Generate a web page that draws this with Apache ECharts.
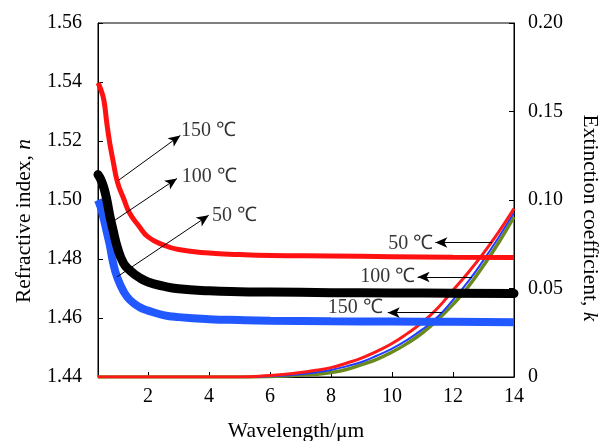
<!DOCTYPE html>
<html>
<head>
<meta charset="utf-8">
<script src="https://cdn.jsdelivr.net/npm/echarts@6/dist/echarts.min.js"></script>
<style>html,body{margin:0;padding:0;background:#fff;}#c{width:613px;height:441px;}</style>
</head>
<body>
<div id="c"></div>
<script>
// ---- data ----
const wavelengthN = [0.36,0.45,0.55,0.65,0.75,0.85,1.0,1.2,1.4,1.7,2.0,2.5,3,4,5,6,8,10,12,14];
const nRed150  = [1.5397,1.5375,1.5340,1.5260,1.5190,1.5135,1.5060,1.5005,1.4955,1.4912,1.4875,1.4848,1.4832,1.4820,1.4815,1.4812,1.4810,1.4808,1.4806,1.4805];
const nBlack100= [1.5086,1.5070,1.5042,1.5000,1.4945,1.4900,1.4838,1.4785,1.4762,1.4738,1.4722,1.4708,1.4699,1.4692,1.4689,1.4688,1.4686,1.4685,1.4684,1.4683];
const nBlue50  = [1.5000,1.4975,1.4935,1.4890,1.4845,1.4790,1.4735,1.4690,1.4662,1.4638,1.4625,1.4610,1.4603,1.4596,1.4593,1.4591,1.4589,1.4588,1.4587,1.4586];

const wavelengthK = [0.36,1,2,3,4,5,6,6.5,7,7.5,8,8.5,9,9.5,10,10.5,11,11.5,12,12.5,13,13.5,14];
const kRed50   = [0,0,0,0,0,0,0.0008,0.0015,0.0025,0.0038,0.0053,0.0078,0.0107,0.0145,0.0189,0.0245,0.0310,0.0390,0.0490,0.0590,0.0700,0.0820,0.0951];
const kBlue100 = [0,0,0,0,0,0,0.0004,0.0008,0.0015,0.0026,0.0040,0.0060,0.0085,0.0120,0.0160,0.0210,0.0270,0.0340,0.0435,0.0540,0.0660,0.0790,0.0929];
const kGreen150= [0,0,0,0,0,0,0.0003,0.0006,0.0011,0.0015,0.0025,0.0042,0.0070,0.0100,0.0141,0.0190,0.0250,0.0325,0.0410,0.0510,0.0630,0.0760,0.0904];

const xTicks = [2,4,6,8,10,12,14];
const leftTicks = [1.44,1.46,1.48,1.50,1.52,1.54,1.56];
const rightTicks = ['0','0.05','0.10','0.15','0.20'];

const labelTexts = ['150 ℃','100 ℃','50 ℃'];
const leftLabelAt  = [[3.08,1.5236],[3.11,1.5078],[4.10,1.4948]];
const leftArrows   = [[[1.036,1.5067],[3.06,1.5219]],[[0.82,1.4925],[2.95,1.5073]],[[0.98,1.4739],[3.99,1.4948]]];
const rightLabelText = ['50 ℃','100 ℃','150 ℃'];
const rightLabelAt = [[11.35,1.4852],[10.76,1.4741],[9.70,1.4635]];
const rightArrows  = [[[13.28,1.4856],[11.42,1.4856]],[[12.62,1.4739],[10.84,1.4739]],[[11.64,1.4618],[9.86,1.4618]]];

// ---- chart ----
const FONT = 'Liberation Serif';
const zip = (xs, ys) => xs.map((x, i) => [x, ys[i]]);
const chart = echarts.init(document.getElementById('c'));
const txt = {color:'#000', fontFamily: FONT, fontSize: 20};
const nameTxt = {color:'#000', fontFamily: FONT, fontSize: 21.5};

const arrowLines = leftArrows.concat(rightArrows).map(a => [
  {coord: a[0], symbol: 'none'},
  {coord: a[1], symbol: 'arrow', symbolSize: [8, 12]}
]);

chart.setOption({
  animation: false,
  grid: {left: 98, right: 99, top: 23, bottom: 64, show: true, borderColor: '#000', borderWidth: 1,
         containLabel: false, outerBoundsMode: 'none'},
  xAxis: {
    type: 'value', min: 0.36, max: 14,
    axisLine: {show: true, onZero: false, lineStyle: {color: '#000', width: 1}},
    axisTick: {show: true, inside: true, length: 5, customValues: xTicks, lineStyle: {color: '#000'}},
    axisLabel: Object.assign({customValues: xTicks, margin: 10}, txt),
    splitLine: {show: false},
    name: 'Wavelength/μm', nameLocation: 'middle', nameGap: 43,
    nameTextStyle: Object.assign({padding: [0, 20, 0, 0]}, nameTxt)
  },
  yAxis: [{
    type: 'value', min: 1.44, max: 1.56, interval: 0.02, position: 'left',
    axisLine: {show: true, lineStyle: {color: '#000'}},
    axisTick: {show: true, inside: true, length: 5, lineStyle: {color: '#000'}},
    axisLabel: Object.assign({margin: 16, formatter: v => v.toFixed(2)}, txt),
    splitLine: {show: false},
    name: 'Refractive index, {i|n}', nameLocation: 'middle', nameGap: 63,
    nameTextStyle: Object.assign({padding: [0, 42, 0, 0], rich: {i: Object.assign({fontStyle: 'italic'}, nameTxt)}}, nameTxt)
  }, {
    type: 'value', min: 0, max: 0.2, interval: 0.05, position: 'right',
    axisLine: {show: true, lineStyle: {color: '#000'}},
    axisTick: {show: true, inside: true, length: 5, lineStyle: {color: '#000'}},
    axisLabel: Object.assign({margin: 14, formatter: (v, i) => rightTicks[i]}, txt),
    splitLine: {show: false},
    name: 'Extinction coefficient, {i|k}', nameLocation: 'middle', nameGap: 65, nameRotate: -90,
    nameTextStyle: Object.assign({padding: [0, 0, 0, 36], rich: {i: Object.assign({fontStyle: 'italic'}, nameTxt)}}, nameTxt)
  }],
  series: [
    {type: 'line', name: 'kGreen150', yAxisIndex: 1, data: zip(wavelengthK, kGreen150), smooth: true, symbol: 'none', lineStyle: {color: '#6b8a1e', width: 3.5}},
    {type: 'line', name: 'kBlue100', yAxisIndex: 1, data: zip(wavelengthK, kBlue100), smooth: true, symbol: 'none', lineStyle: {color: '#1f3cff', width: 2}},
    {type: 'line', name: 'kRed50', yAxisIndex: 1, data: zip(wavelengthK, kRed50), smooth: true, symbol: 'none', lineStyle: {color: '#ff1a1a', width: 3}},
    {type: 'line', name: 'nBlue50', yAxisIndex: 0, data: zip(wavelengthN, nBlue50), smooth: true, symbol: 'none', lineStyle: {color: '#2158ff', width: 8}},
    {type: 'line', name: 'nBlack100', yAxisIndex: 0, data: zip(wavelengthN, nBlack100), smooth: true, symbol: 'none', lineStyle: {color: '#000', width: 9, cap: 'round'}},
    {type: 'line', name: 'nRed150', yAxisIndex: 0, data: zip(wavelengthN, nRed150), smooth: true, symbol: 'none', lineStyle: {color: '#ff1111', width: 5},
      markLine: {silent: true, animation: false, label: {show: false}, lineStyle: {color: '#000', width: 1, type: 'solid'}, data: arrowLines}},
    {type: 'scatter', yAxisIndex: 0, symbolSize: 0, silent: true,
      data: leftLabelAt.map((p, i) => ({name: labelTexts[i], value: p})),
      label: Object.assign({show: true, position: 'right', distance: 0, formatter: '{b}'}, txt)},
    {type: 'scatter', yAxisIndex: 0, symbolSize: 0, silent: true,
      data: rightLabelAt.map((p, i) => ({name: rightLabelText[i], value: p})),
      label: Object.assign({show: true, position: 'left', distance: 0, formatter: '{b}'}, txt)}
  ]
});
</script>
</body>
</html>
